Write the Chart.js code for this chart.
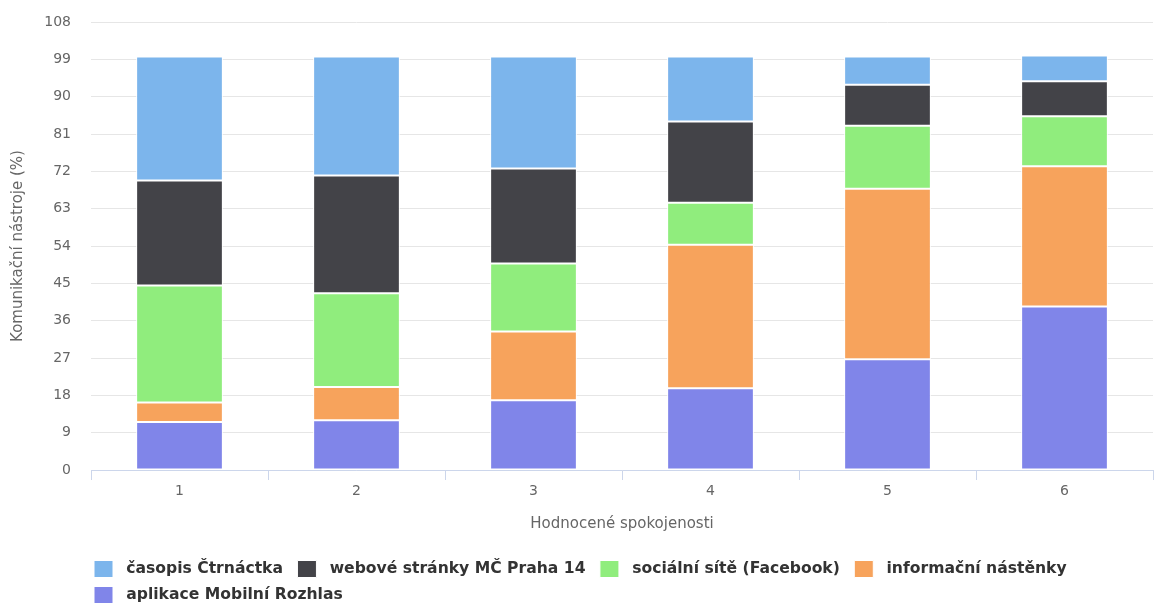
<!DOCTYPE html>
<html>
<head>
<meta charset="utf-8">
<script src="https://cdn.jsdelivr.net/npm/chart.js@4"></script>
<style>
  html, body { margin: 0; padding: 0; background: #fff; }
  #wrap { width: 1155px; height: 605px; }
</style>
</head>
<body>
<div id="wrap"><canvas id="graf"></canvas></div>
<script>
// hodnoty (%)
var kategorie = ['1', '2', '3', '4', '5', '6'];
var aplikace = [11.6, 12.0, 16.8, 19.7, 26.7, 39.4];
var nastenky = [4.7, 8.0, 16.6, 34.6, 41.1, 33.8];
var socialni = [28.2, 22.6, 16.4, 10.1, 15.2, 12.1];
var webove = [25.3, 28.4, 22.9, 19.6, 9.9, 8.4];
var casopis = [29.9, 28.7, 27.0, 15.7, 6.8, 6.2];

var font = '"DejaVu Sans", sans-serif';

// odspodu nahoru, legenda se pak otočí
var datasets = [
  { label: 'aplikace Mobilní Rozhlas', data: aplikace, backgroundColor: '#8085e9' },
  { label: 'informační nástěnky', data: nastenky, backgroundColor: '#f7a35c' },
  { label: 'sociální sítě (Facebook)', data: socialni, backgroundColor: '#90ed7d' },
  { label: 'webové stránky MČ Praha 14', data: webove, backgroundColor: '#434348' },
  { label: 'časopis Čtrnáctka', data: casopis, backgroundColor: '#7cb5ec' }
];
datasets.forEach(function (d) {
  d.borderColor = '#ffffff';
  d.borderWidth = 1;
  d.borderSkipped = false;
  d.barPercentage = 0.49;
  d.categoryPercentage = 1;
});

// legenda zarovnaná s grafem jako v originálu
var posunLegendy = {
  id: 'posunLegendy',
  afterLayout: function (chart) {
    var lg = chart.legend;
    lg.left = 85;
    lg.top = 551.5;
  }
};

var ctx = document.getElementById('graf').getContext('2d');
var graf = new Chart(ctx, {
  type: 'bar',
  data: { labels: kategorie, datasets: datasets },
  plugins: [posunLegendy],
  options: {
    responsive: true,
    maintainAspectRatio: false,
    animation: false,
    layout: { padding: { top: 22, right: 2, left: 0, bottom: 0 } },
    plugins: {
      tooltip: { enabled: false },
      legend: {
        position: 'bottom',
        align: 'start',
        reverse: true,
        labels: {
          boxWidth: 19,
          boxHeight: 17,
          padding: 9,
          color: '#333333',
          font: { family: font, size: 15.6, weight: 'bold' },
          generateLabels: function (chart) {
            var items = Chart.defaults.plugins.legend.labels.generateLabels(chart);
            items.forEach(function (it) { it.text = '\u00a0' + it.text + '\u00a0'; });
            return items;
          }
        }
      }
    },
    scales: {
      x: {
        stacked: true,
        offset: true,
        grid: {
          offset: true,
          drawOnChartArea: false,
          drawTicks: true,
          tickLength: 10,
          color: '#ccd6eb'
        },
        border: { color: '#ccd6eb' },
        ticks: { color: '#666666', padding: 3, font: { family: font, size: 14 } },
        title: {
          display: true,
          text: 'Hodnocené spokojenosti',
          color: '#666666',
          padding: { top: 0, bottom: 10 },
          font: { family: font, size: 15 }
        },
        afterFit: function (scale) { scale.height = 73; }
      },
      y: {
        stacked: true,
        min: 0,
        max: 108,
        grid: { color: '#e6e6e6', drawTicks: true, tickLength: 20, tickColor: 'rgba(0,0,0,0)' },
        border: { display: false },
        ticks: { stepSize: 9, color: '#666666', padding: 0, font: { family: font, size: 14 } },
        title: {
          display: true,
          text: 'Komunikační nástroje (%)',
          color: '#666666',
          padding: { top: 9, bottom: 0 },
          font: { family: font, size: 15 }
        },
        afterFit: function (scale) { scale.width = 91; }
      }
    }
  }
});
</script>
</body>
</html>
